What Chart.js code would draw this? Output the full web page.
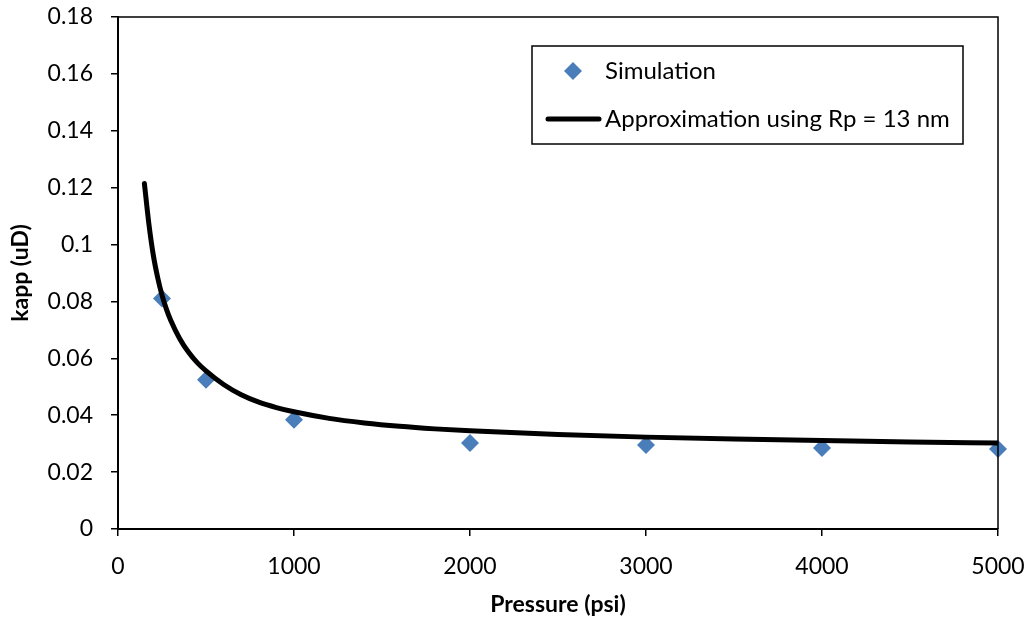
<!DOCTYPE html>
<html>
<head>
<meta charset="utf-8">
<script src="https://cdn.jsdelivr.net/npm/chart.js@4/dist/chart.umd.min.js"></script>
<style>
  html, body { margin: 0; padding: 0; background: #ffffff; }
  #wrap { width: 1031px; height: 622px; }
</style>
</head>
<body>
<div id="wrap"><canvas id="c" width="1031" height="622"></canvas></div>
<script>
// ---- Data ----
const simPressure = [250, 500, 1000, 2000, 3000, 4000, 5000];
const simKapp     = [0.081, 0.0525, 0.0384, 0.0302, 0.0295, 0.0285, 0.0281];

const approxPressure = [150, 175, 200, 225, 250, 275, 300, 350, 400, 450, 500, 600, 700, 800, 900, 1000, 1200, 1400, 1600, 1800, 2000, 2500, 3000, 3500, 4000, 4500, 5000];
const approxKapp     = [0.1215, 0.1075, 0.0965, 0.0885, 0.0822, 0.0773, 0.0733, 0.0670, 0.0622, 0.0585, 0.0556, 0.0508, 0.0472, 0.0446, 0.0427, 0.0412, 0.0389, 0.0373, 0.0361, 0.0352, 0.0345, 0.0332, 0.0323, 0.0316, 0.0311, 0.0306, 0.0302];

const xTickLabels = ['0', '1000', '2000', '3000', '4000', '5000'];
const yTickLabels = ['0', '0.02', '0.04', '0.06', '0.08', '0.1', '0.12', '0.14', '0.16', '0.18'];

const seriesNames = ['Simulation', 'Approximation using Rp = 13 nm'];
const axisTitles = { x: 'Pressure (psi)', y: 'kapp (uD)' };

const FONT = 'Lato, "Open Sans", "DejaVu Sans", sans-serif';
const TICK_SIZE = 23;
const TITLE_SIZE = 23;
const LEGEND_SIZE = 24;

const toXY = (xs, ys) => xs.map((x, i) => ({ x: x, y: ys[i] }));

const frameAndLegend = {
  id: 'frameAndLegend',
  afterDraw(chart) {
    const ctx = chart.ctx;
    const a = chart.chartArea;
    ctx.save();
    // plot area frame (top & right)
    ctx.strokeStyle = '#000';
    ctx.lineWidth = 1.5;
    ctx.beginPath();
    ctx.moveTo(a.left, a.top);
    ctx.lineTo(a.right, a.top);
    ctx.lineTo(a.right, a.bottom);
    ctx.stroke();

    // legend box
    const lx = 532, ly = 46, lw = 431, lh = 98;
    ctx.fillStyle = '#fff';
    ctx.fillRect(lx, ly, lw, lh);
    ctx.lineWidth = 1.5;
    ctx.strokeStyle = '#000';
    ctx.strokeRect(lx, ly, lw, lh);

    const ds0 = chart.data.datasets[1];
    const ds1 = chart.data.datasets[0];
    // diamond
    const dx = 573, dy = 71, r = 9;
    ctx.fillStyle = ds0.backgroundColor;
    ctx.beginPath();
    ctx.moveTo(dx - r, dy);
    ctx.lineTo(dx, dy - r);
    ctx.lineTo(dx + r, dy);
    ctx.lineTo(dx, dy + r);
    ctx.closePath();
    ctx.fill();
    // line sample
    ctx.strokeStyle = ds1.borderColor;
    ctx.lineWidth = 5;
    ctx.lineCap = 'round';
    ctx.beginPath();
    ctx.moveTo(548, 119);
    ctx.lineTo(599, 119);
    ctx.stroke();

    ctx.fillStyle = '#000';
    ctx.font = LEGEND_SIZE + 'px ' + FONT;
    ctx.textBaseline = 'middle';
    ctx.textAlign = 'left';
    ctx.fillText(ds0.label, 605, 71);
    ctx.fillText(ds1.label, 605, 119);
    ctx.restore();
  }
};

new Chart(document.getElementById('c'), {
  type: 'scatter',
  data: {
    datasets: [
      {
        label: seriesNames[1],
        data: toXY(approxPressure, approxKapp),
        showLine: true,
        borderColor: '#000000',
        backgroundColor: '#000000',
        borderWidth: 5,
        borderCapStyle: 'round',
        borderJoinStyle: 'round',
        pointRadius: 0,
        cubicInterpolationMode: 'monotone',
        order: 0
      },
      {
        label: seriesNames[0],
        data: toXY(simPressure, simKapp),
        showLine: false,
        pointStyle: 'rectRot',
        pointRadius: 9,
        pointHoverRadius: 9,
        backgroundColor: '#4A7EBB',
        borderColor: '#4A7EBB',
        borderWidth: 0,
        clip: false,
        order: 1
      }
    ]
  },
  options: {
    responsive: false,
    animation: false,
    events: [],
    layout: { padding: { top: 17, right: 33, left: 0, bottom: 0 } },
    plugins: {
      legend: { display: false },
      tooltip: { enabled: false },
      title: { display: false }
    },
    scales: {
      x: {
        type: 'linear',
        min: 0,
        max: 5000,
        afterFit(scale) {
          scale.height = 93;
          scale.paddingLeft = 0; scale.paddingRight = 0;
          scale.paddingTop = 0; scale.paddingBottom = 0;
        },
        afterBuildTicks(scale) {
          scale.ticks = xTickLabels.map(t => ({ value: Number(t) }));
        },
        ticks: {
          color: '#000',
          font: { family: FONT, size: TICK_SIZE },
          padding: 17,
          maxRotation: 0,
          callback: (v, i) => xTickLabels[i]
        },
        grid: {
          display: true,
          drawOnChartArea: false,
          drawTicks: true,
          tickLength: 7,
          color: '#000',
          lineWidth: 1.5
        },
        border: { display: true, color: '#000', width: 2 },
        title: {
          display: true,
          text: axisTitles.x,
          color: '#000',
          font: { family: FONT, size: TITLE_SIZE, weight: 'bold' },
          padding: { top: 0, bottom: 4 }
        }
      },
      y: {
        type: 'linear',
        min: 0,
        max: 0.18,
        afterFit(scale) {
          scale.width = 118;
          scale.paddingLeft = 0; scale.paddingRight = 0;
          scale.paddingTop = 0; scale.paddingBottom = 0;
        },
        afterBuildTicks(scale) {
          scale.ticks = yTickLabels.map(t => ({ value: Number(t) }));
        },
        ticks: {
          color: '#000',
          font: { family: FONT, size: TICK_SIZE },
          padding: 18,
          callback: (v, i) => yTickLabels[i]
        },
        grid: {
          display: true,
          drawOnChartArea: false,
          drawTicks: true,
          tickLength: 7,
          color: '#000',
          lineWidth: 1.5
        },
        border: { display: true, color: '#000', width: 2 },
        title: {
          display: true,
          text: axisTitles.y,
          color: '#000',
          font: { family: FONT, size: TITLE_SIZE, weight: 'bold' },
          padding: { top: 7, bottom: 0 }
        }
      }
    }
  },
  plugins: [frameAndLegend]
});
</script>
</body>
</html>
